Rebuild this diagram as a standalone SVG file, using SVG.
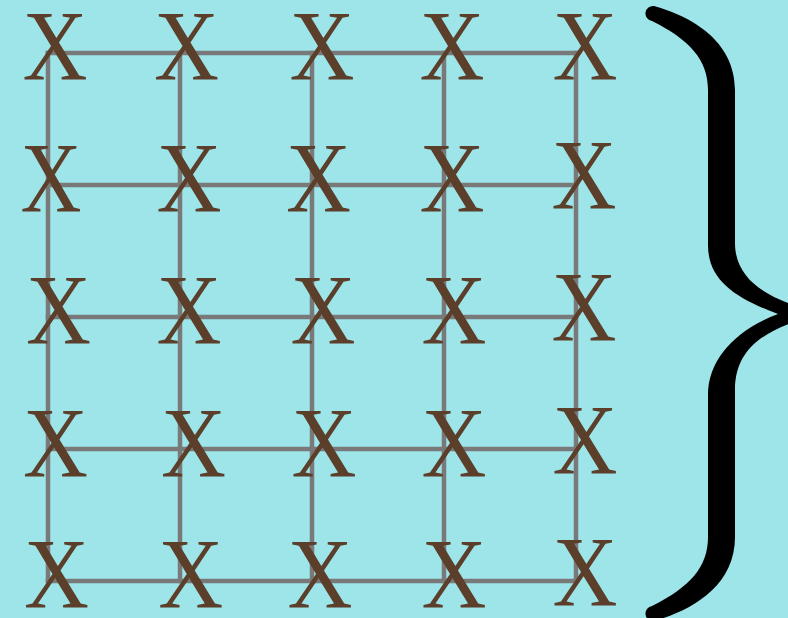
<svg xmlns="http://www.w3.org/2000/svg" width="788" height="618" viewBox="0 0 788 618">
<style>
.bg{fill:#9ee5ea}
.ln{stroke:#797979;stroke-width:4.5;stroke-linecap:square;fill:none}
.x{font-family:"Liberation Serif","Times New Roman",serif;font-size:100px;fill:#5b3f2a;text-anchor:middle}
.brace{fill:#000}
</style>
<rect class="bg" x="0" y="0" width="788" height="618"/>
<g id="connectors">
<line class="ln" x1="48" y1="53" x2="576" y2="53"/>
<line class="ln" x1="48" y1="185" x2="576" y2="185"/>
<line class="ln" x1="48" y1="317" x2="576" y2="317"/>
<line class="ln" x1="48" y1="449" x2="576" y2="449"/>
<line class="ln" x1="48" y1="581" x2="576" y2="581"/>
<line class="ln" x1="48" y1="53" x2="48" y2="581"/>
<line class="ln" x1="180" y1="53" x2="180" y2="581"/>
<line class="ln" x1="312" y1="53" x2="312" y2="581"/>
<line class="ln" x1="444" y1="53" x2="444" y2="581"/>
<line class="ln" x1="576" y1="53" x2="576" y2="581"/>
</g>
<g id="n11"><text class="x" x="55" y="79" textLength="65" lengthAdjust="spacingAndGlyphs">X</text></g>
<g id="n12"><text class="x" x="186.5" y="79" textLength="65" lengthAdjust="spacingAndGlyphs">X</text></g>
<g id="n13"><text class="x" x="322" y="79" textLength="65" lengthAdjust="spacingAndGlyphs">X</text></g>
<g id="n14"><text class="x" x="452" y="79" textLength="65" lengthAdjust="spacingAndGlyphs">X</text></g>
<g id="n15"><text class="x" x="585" y="79" textLength="65" lengthAdjust="spacingAndGlyphs">X</text></g>
<g id="n21"><text class="x" x="51" y="211" textLength="61" lengthAdjust="spacingAndGlyphs">X</text></g>
<g id="n22"><text class="x" x="189" y="211" textLength="65" lengthAdjust="spacingAndGlyphs">X</text></g>
<g id="n23"><text class="x" x="318.5" y="211" textLength="65" lengthAdjust="spacingAndGlyphs">X</text></g>
<g id="n24"><text class="x" x="452" y="211" textLength="65" lengthAdjust="spacingAndGlyphs">X</text></g>
<g id="n25"><text class="x" x="584" y="208" textLength="65" lengthAdjust="spacingAndGlyphs">X</text></g>
<g id="n31"><text class="x" x="58.4" y="343" textLength="65" lengthAdjust="spacingAndGlyphs">X</text></g>
<g id="n32"><text class="x" x="189" y="343" textLength="65" lengthAdjust="spacingAndGlyphs">X</text></g>
<g id="n33"><text class="x" x="323" y="343" textLength="65" lengthAdjust="spacingAndGlyphs">X</text></g>
<g id="n34"><text class="x" x="454" y="343" textLength="65" lengthAdjust="spacingAndGlyphs">X</text></g>
<g id="n35"><text class="x" x="584" y="340" textLength="65" lengthAdjust="spacingAndGlyphs">X</text></g>
<g id="n41"><text class="x" x="55.5" y="476" textLength="65" lengthAdjust="spacingAndGlyphs">X</text></g>
<g id="n42"><text class="x" x="193.5" y="476" textLength="65" lengthAdjust="spacingAndGlyphs">X</text></g>
<g id="n43"><text class="x" x="324" y="476" textLength="65" lengthAdjust="spacingAndGlyphs">X</text></g>
<g id="n44"><text class="x" x="454" y="476" textLength="65" lengthAdjust="spacingAndGlyphs">X</text></g>
<g id="n45"><text class="x" x="585" y="473" textLength="65" lengthAdjust="spacingAndGlyphs">X</text></g>
<g id="n51"><text class="x" x="56.5" y="607" textLength="65" lengthAdjust="spacingAndGlyphs">X</text></g>
<g id="n52"><text class="x" x="190.7" y="607" textLength="65" lengthAdjust="spacingAndGlyphs">X</text></g>
<g id="n53"><text class="x" x="320" y="607" textLength="65" lengthAdjust="spacingAndGlyphs">X</text></g>
<g id="n54"><text class="x" x="454" y="607" textLength="65" lengthAdjust="spacingAndGlyphs">X</text></g>
<g id="n55"><text class="x" x="585" y="605" textLength="65" lengthAdjust="spacingAndGlyphs">X</text></g>
<path class="brace" d="M 654,6 C 690,16 735,40 735,90 L 735,243 C 735,275 760,295 800,307 L 800,320 C 760,333 735,352 735,390 L 735,537 C 735,587 690,611 654,621 A 7.5 7.5 0 0 1 652,606 C 690,587 708,567 708,537 L 708,395 C 708,360 735,330 778,314 C 735,298 708,280 708,245 L 708,90 C 708,60 690,40 652,21 A 7.5 7.5 0 0 1 654,6 Z"/>
</svg>
